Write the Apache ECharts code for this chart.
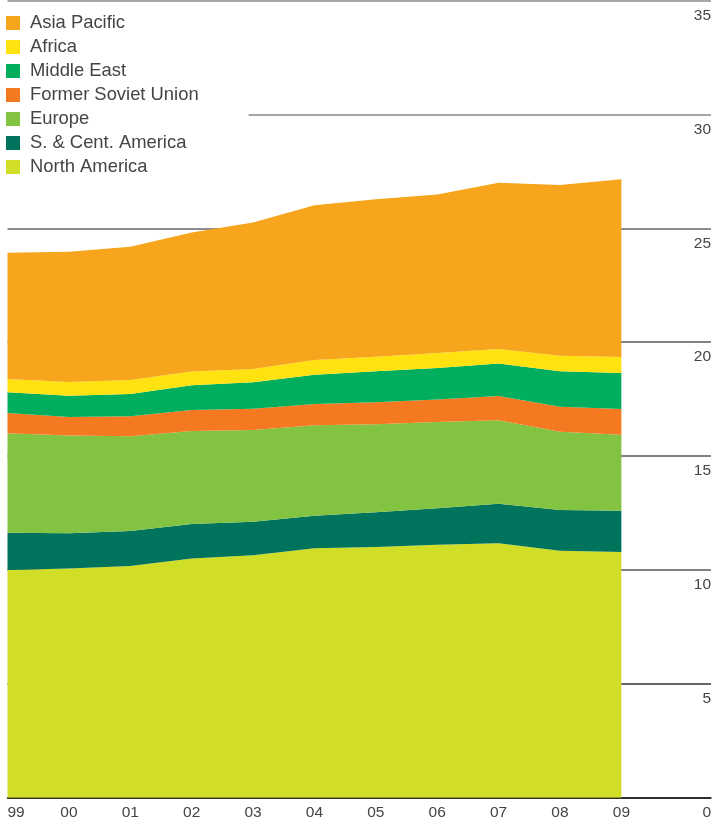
<!DOCTYPE html>
<html>
<head>
<meta charset="utf-8">
<script src="https://cdn.jsdelivr.net/npm/echarts@6/dist/echarts.min.js"></script>
<style>
html,body{margin:0;padding:0;background:#fff;overflow:hidden;}
#chart{width:714px;height:824px;}
</style>
</head>
<body>
<div id="chart"></div>
<script>
// Years (x categories) and tick labels
const years = [1999, 2000, 2001, 2002, 2003, 2004, 2005, 2006, 2007, 2008, 2009];
const yearLabels = ['99', '00', '01', '02', '03', '04', '05', '06', '07', '08', '09'];
const yTicks = [0, 5, 10, 15, 20, 25, 30, 35];

// Series values (stacked, bottom to top)
const northAmerica = [10.00, 10.07, 10.18, 10.51, 10.65, 10.95, 11.01, 11.11, 11.17, 10.85, 10.79];
const sCentAmerica = [1.64, 1.54, 1.53, 1.51, 1.47, 1.43, 1.52, 1.60, 1.74, 1.78, 1.81];
const europe = [4.36, 4.29, 4.16, 4.08, 4.03, 3.97, 3.87, 3.79, 3.66, 3.44, 3.34];
const formerSovietUnion = [0.89, 0.82, 0.88, 0.92, 0.93, 0.94, 0.96, 0.99, 1.07, 1.10, 1.13];
const middleEast = [0.91, 0.93, 0.98, 1.09, 1.16, 1.28, 1.36, 1.38, 1.42, 1.55, 1.58];
const africa = [0.58, 0.60, 0.61, 0.60, 0.58, 0.65, 0.64, 0.66, 0.64, 0.69, 0.70];
const asiaPacific = [5.55, 5.72, 5.85, 6.11, 6.44, 6.79, 6.91, 6.95, 7.30, 7.49, 7.80];

const seriesDefs = [
  { name: 'North America', data: northAmerica, color: '#D0DE28' },
  { name: 'S. & Cent. America', data: sCentAmerica, color: '#00735C' },
  { name: 'Europe', data: europe, color: '#82C341' },
  { name: 'Former Soviet Union', data: formerSovietUnion, color: '#F47920' },
  { name: 'Middle East', data: middleEast, color: '#00AE5E' },
  { name: 'Africa', data: africa, color: '#FFE20F' },
  { name: 'Asia Pacific', data: asiaPacific, color: '#F7A51C' }
];

const chart = echarts.init(document.getElementById('chart'), null, { renderer: 'canvas', width: 714, height: 824 });
const FONT = '"Liberation Sans", Arial, sans-serif';

const option = {
  animation: false,
  backgroundColor: '#fff',
  grid: { left: 7.5, right: 0, top: 0.5, bottom: 26.2, containLabel: false },
  legend: {
    orient: 'vertical',
    left: 0,
    top: 3,
    padding: [8, 50, 6, 6],
    backgroundColor: '#fff',
    itemWidth: 14,
    itemHeight: 14,
    itemGap: 0,
    icon: 'rect',
    data: ['Asia Pacific', 'Africa', 'Middle East', 'Former Soviet Union', 'Europe', 'S. & Cent. America', 'North America'],
    textStyle: { fontFamily: FONT, fontSize: 18.4, color: '#444', lineHeight: 24, padding: [0, 0, 0, 5] },
    selectedMode: false,
    z: 10
  },
  xAxis: {
    type: 'value',
    min: 1999,
    max: 1999 + (714 - 7.5) / 61.65,
    interval: 1,
    axisLine: { show: true, lineStyle: { color: '#222', width: 1.5 } },
    axisTick: { show: false },
    splitLine: { show: false },
    axisLabel: {
      fontFamily: FONT, fontSize: 15.5, color: '#444', margin: 7,
      alignMinLabel: 'left',
      showMaxLabel: false,
      formatter: function (v) {
        const i = years.indexOf(Math.round(v));
        return (Math.abs(v - Math.round(v)) < 1e-6 && i >= 0) ? yearLabels[i] : '';
      }
    }
  },
  yAxis: {
    type: 'value',
    position: 'right',
    min: yTicks[0],
    max: yTicks[yTicks.length - 1],
    interval: 5,
    axisLine: { show: false },
    axisTick: { show: false },
    splitLine: { show: true, lineStyle: { color: ['#222', '#333', '#555', '#555', '#5a5a5a', '#666', '#888', '#8a8a8a'], width: 1.5 } },
    axisLabel: {
      inside: true, margin: 0, fontFamily: FONT, fontSize: 15.5, color: '#444',
      verticalAlign: 'top', padding: [7, 0, 0, 0],
      formatter: function (v) { return yTicks.indexOf(v) >= 0 ? String(v) : ''; }
    }
  },
  series: seriesDefs.map(function (s) {
    return {
      name: s.name,
      type: 'line',
      stack: 'total',
      symbol: 'none',
      smooth: false,
      lineStyle: { width: 0 },
      areaStyle: { color: s.color, opacity: 1 },
      itemStyle: { color: s.color },
      encode: { x: 1, y: 0 },
      data: years.map(function (y, i) { return [s.data[i], y]; })
    };
  })
};
chart.setOption(option);
</script>
</body>
</html>
